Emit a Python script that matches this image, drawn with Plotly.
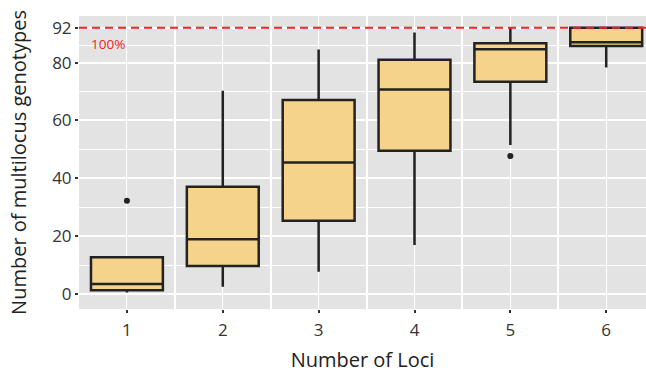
import plotly.graph_objects as go

loci = [1, 2, 3, 4, 5, 6]
lower = [0.5, 2.5, 7.7, 16.9, 51.5, 78.3]
q1 = [1.3, 9.7, 25.3, 49.5, 73.4, 85.7]
median = [3.5, 18.9, 45.5, 70.7, 84.6, 87.0]
q3 = [12.7, 37.1, 67.1, 81.0, 86.7, 92.0]
upper = [12.7, 70.3, 84.5, 90.4, 92.0, 92.0]
outlier_x = [1, 5]
outlier_y = [32.2, 47.7]
max_genotypes = 92
y_ticks = [0, 20, 40, 60, 80, 92]
y_minor = [10, 30, 50, 70, 86]

FONT = "Open Sans"
fig = go.Figure()
fig.add_trace(go.Box(
    x=loci, q1=q1, median=median, q3=q3, lowerfence=lower, upperfence=upper,
    width=0.75, whiskerwidth=0, fillcolor="#F5D38A",
    line=dict(color="#222222", width=2.5), boxpoints=False, showlegend=False,
))
fig.add_trace(go.Scatter(
    x=outlier_x, y=outlier_y, mode="markers",
    marker=dict(color="#222222", size=6), showlegend=False,
))
fig.add_shape(type="line", xref="paper", x0=0, x1=1, yref="y",
              y0=max_genotypes, y1=max_genotypes,
              line=dict(color="#EE2424", width=2, dash="8px,5px"))
fig.add_annotation(x=0.6, y=86.4, text="100%", showarrow=False,
                   xanchor="left", yanchor="middle",
                   font=dict(family=FONT, size=13.5, color="#EE2424"))

fig.update_layout(
    width=646, height=373,
    margin=dict(l=79, r=0, t=16, b=64),
    paper_bgcolor="white", plot_bgcolor="#E3E3E3",
    font=dict(family=FONT, color="#333333"),
)
fig.update_xaxes(
    range=[0.5, 6.415], tickvals=loci, ticktext=[str(v) for v in loci],
    showgrid=True, gridcolor="white", gridwidth=1,
    minor=dict(tickvals=[0.5, 1.5, 2.5, 3.5, 4.5, 5.5, 6.5], showgrid=True,
               gridcolor="white", gridwidth=2, ticks=""),
    ticks="outside", ticklen=3, tickwidth=2, tickcolor="#333333",
    ticklabelstandoff=3,
    tickfont=dict(size=17, color="#333333"), zeroline=False,
    title=dict(text="Number of Loci", font=dict(size=20, color="#222222"), standoff=19),
)
fig.update_yaxes(
    range=[-5.18, 96.1], tickvals=y_ticks,
    showgrid=True, gridcolor="white", gridwidth=1.6,
    minor=dict(tickvals=y_minor, showgrid=True, gridcolor="white", gridwidth=1, ticks=""),
    ticks="outside", ticklen=3, tickwidth=2, tickcolor="#333333",
    tickfont=dict(size=17, color="#333333"), zeroline=False,
    title=dict(text="Number of multilocus genotypes", font=dict(size=20, color="#222222"), standoff=20),
)
fig.write_html("out.html")
